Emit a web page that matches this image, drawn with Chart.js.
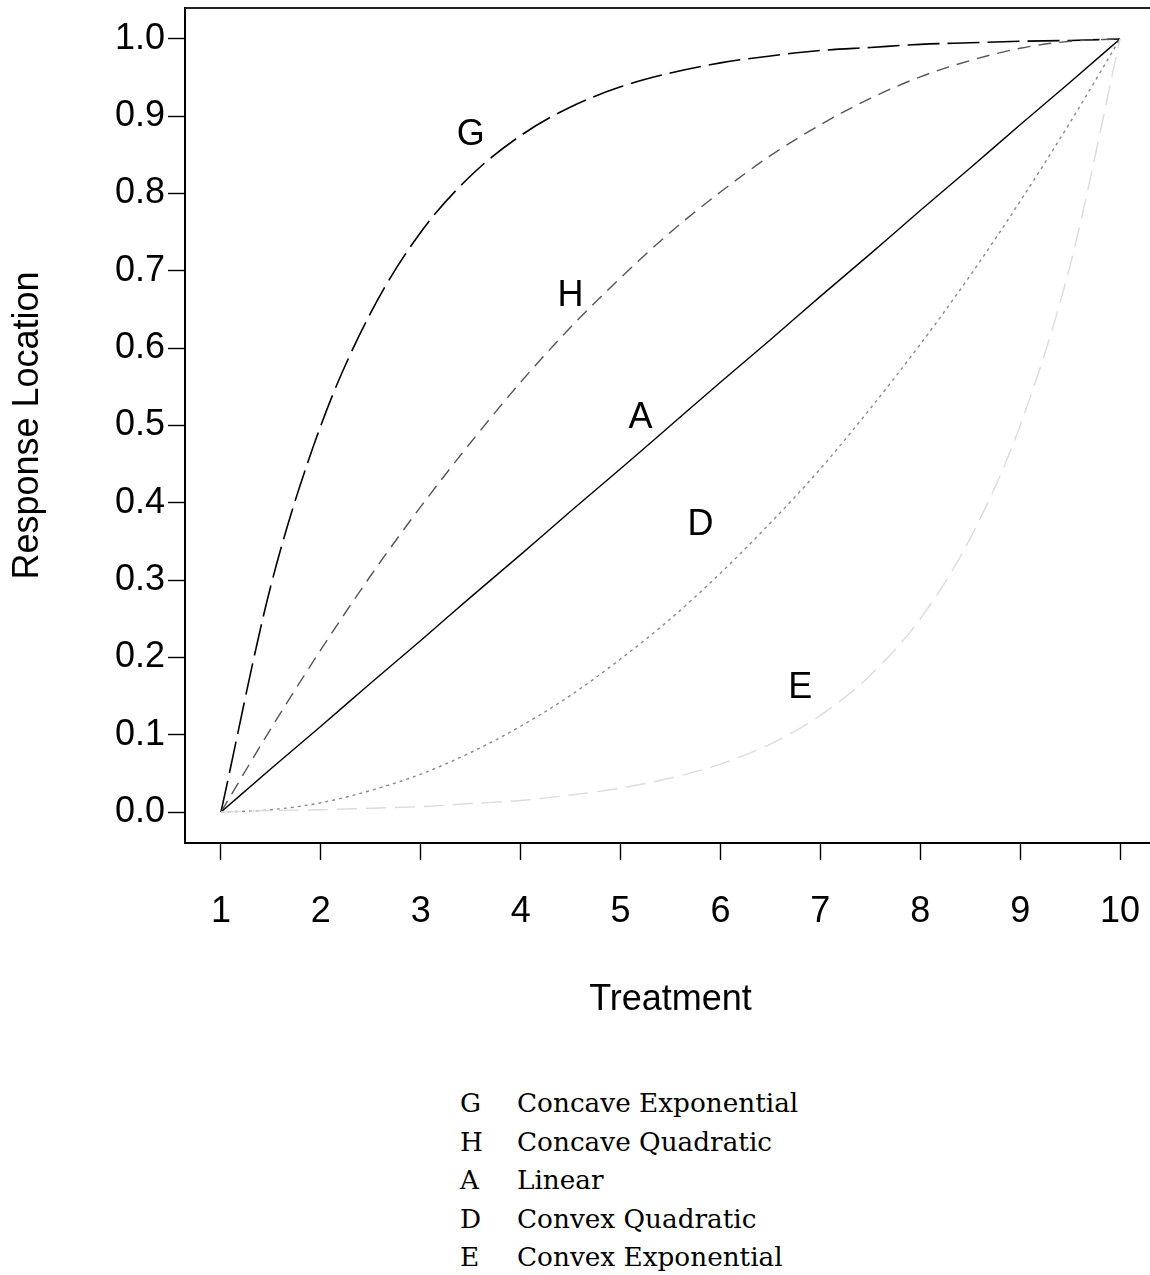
<!DOCTYPE html>
<html>
<head>
<meta charset="utf-8">
<script src="https://cdn.jsdelivr.net/npm/chart.js@4"></script>
<style>
  html, body { margin: 0; background: #fff; overflow: hidden; width: 1150px; height: 1275px; }
  #plot { position: absolute; left: 0; top: 0; }
  #key { position: absolute; left: 460px; top: 1084px; font-family: 'DejaVu Serif', serif; font-size: 26.3px; line-height: 38.5px; color: #000; }
  #key .k { display: inline-block; width: 57px; }
</style>
</head>
<body>
<canvas id="plot" width="1160" height="1040"></canvas>
<div id="key"></div>
<script>
// treatment levels (half steps so the curves come out smooth)
const treatment = [1, 1.5, 2, 2.5, 3, 3.5, 4, 4.5, 5, 5.5, 6, 6.5, 7, 7.5, 8, 8.5, 9, 9.5, 10];
const concaveExp  = [0, 0.293, 0.5, 0.646, 0.75, 0.823, 0.875, 0.912, 0.938, 0.956, 0.969, 0.978, 0.985, 0.989, 0.993, 0.995, 0.997, 0.998, 1];
const concaveQuad = [0, 0.108, 0.21, 0.306, 0.395, 0.478, 0.556, 0.627, 0.691, 0.75, 0.802, 0.849, 0.889, 0.923, 0.951, 0.972, 0.988, 0.997, 1];
const linear      = [0, 0.056, 0.111, 0.167, 0.222, 0.278, 0.333, 0.389, 0.444, 0.5, 0.556, 0.611, 0.667, 0.722, 0.778, 0.833, 0.889, 0.944, 1];
const convexQuad  = [0, 0.003, 0.012, 0.028, 0.049, 0.077, 0.111, 0.151, 0.198, 0.25, 0.309, 0.374, 0.444, 0.522, 0.605, 0.694, 0.79, 0.892, 1];
const convexExp   = [0, 0.002, 0.003, 0.005, 0.007, 0.011, 0.015, 0.022, 0.031, 0.044, 0.062, 0.088, 0.125, 0.177, 0.25, 0.354, 0.5, 0.707, 1];

const xTicks = [1, 2, 3, 4, 5, 6, 7, 8, 9, 10];
const yTicks = [0, 0.1, 0.2, 0.3, 0.4, 0.5, 0.6, 0.7, 0.8, 0.9, 1.0];

// curve letters placed in data coordinates
const curveLabels = [
  { text: 'G', x: 3.5, y: 0.876 },
  { text: 'H', x: 4.5, y: 0.667 },
  { text: 'A', x: 5.2, y: 0.509 },
  { text: 'D', x: 5.8, y: 0.371 },
  { text: 'E', x: 6.8, y: 0.161 }
];
const keyLetters = ['G', 'H', 'A', 'D', 'E'];
const keyNames = ['Concave Exponential', 'Concave Quadratic', 'Linear', 'Convex Quadratic', 'Convex Exponential'];

const SANS = "'Liberation Sans', Arial, sans-serif";

document.getElementById('key').innerHTML = keyLetters.map((k, i) =>
  `<div><span class="k">${k}</span>${keyNames[i]}</div>`).join('');

const pts = ys => treatment.map((x, i) => ({ x, y: ys[i] }));
const line = (data, color, dash, width) => ({
  data: pts(data), borderColor: color, borderDash: dash, borderWidth: width,
  pointRadius: 0, fill: false, cubicInterpolationMode: 'monotone'
});

const frame = {
  id: 'frame',
  afterDraw(chart) {
    const { ctx, chartArea: a } = chart;
    ctx.save();
    ctx.strokeStyle = '#222';
    ctx.lineWidth = 2;
    ctx.beginPath();
    ctx.moveTo(a.left, a.top); ctx.lineTo(a.right, a.top); ctx.lineTo(a.right, a.bottom);
    ctx.stroke();
    ctx.restore();
  }
};

const letters = {
  id: 'letters',
  afterDatasetsDraw(chart) {
    const { ctx, scales } = chart;
    ctx.save();
    ctx.font = '36px ' + SANS;
    ctx.fillStyle = '#000';
    ctx.textAlign = 'center';
    ctx.textBaseline = 'middle';
    curveLabels.forEach(l => ctx.fillText(l.text, scales.x.getPixelForValue(l.x), scales.y.getPixelForValue(l.y)));
    ctx.restore();
  }
};

new Chart('plot', {
  type: 'line',
  data: {
    datasets: [
      line(convexExp, '#dcdcdc', [20, 9], 1.4),
      line(convexQuad, '#8a8a8a', [3, 4], 1.4),
      line(linear, '#000', [], 1.4),
      line(concaveQuad, '#555', [13, 8], 1.4),
      line(concaveExp, '#000', [32, 8], 1.6)
    ]
  },
  options: {
    responsive: false,
    animation: false,
    layout: { padding: { top: 8, right: 4, left: 0, bottom: 0 } },
    plugins: { legend: { display: false }, tooltip: { enabled: false } },
    scales: {
      x: {
        type: 'linear', min: 0.64, max: 10.36,
        afterBuildTicks: s => { s.ticks = xTicks.map(v => ({ value: v })); },
        afterFit: s => { s.height = 197; s.paddingLeft = 0; s.paddingRight = 0; },
        grid: { drawOnChartArea: false, drawTicks: true, tickLength: 17, tickColor: '#000', tickWidth: 1.4 },
        border: { display: true, color: '#000', width: 2 },
        ticks: { color: '#000', font: { family: SANS, size: 36 }, padding: 30, maxRotation: 0, callback: v => String(v) },
        title: { display: true, text: 'Treatment', color: '#000', font: { family: SANS, size: 36 }, padding: { top: 0, bottom: 18 } }
      },
      y: {
        type: 'linear', min: -0.04, max: 1.04,
        afterBuildTicks: s => { s.ticks = yTicks.map(v => ({ value: v })); },
        afterFit: s => { s.width = 185; s.paddingTop = 0; s.paddingBottom = 0; },
        grid: { drawOnChartArea: false, drawTicks: true, tickLength: 17, tickColor: '#000', tickWidth: 1.4 },
        border: { display: true, color: '#000', width: 2 },
        ticks: { color: '#000', font: { family: SANS, size: 36 }, padding: 3, callback: v => v.toFixed(1) },
        title: { display: true, text: 'Response Location', color: '#000', font: { family: SANS, size: 36 }, padding: { top: 6, bottom: 0 } }
      }
    }
  },
  plugins: [frame, letters]
});
</script>
</body>
</html>
